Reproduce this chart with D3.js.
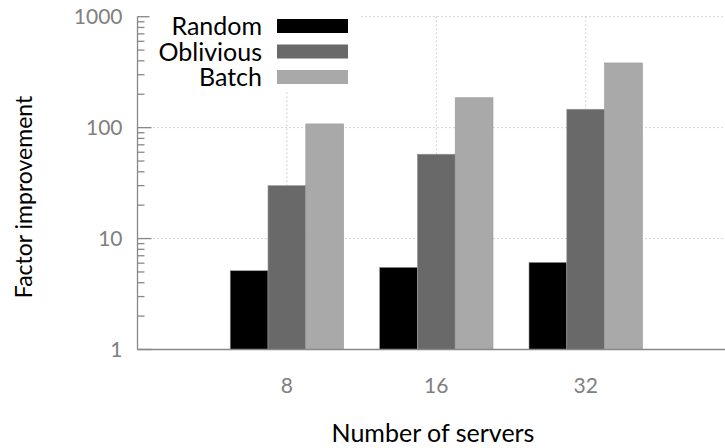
<!DOCTYPE html>
<html>
<head>
<meta charset="utf-8">
<script src="https://cdn.jsdelivr.net/npm/d3@7/dist/d3.min.js"></script>
<style>
  html, body { margin: 0; padding: 0; background: #fff; }
  svg { display: block; font-family: "Lato", "DejaVu Sans", sans-serif; }
</style>
</head>
<body>
<svg id="chart" width="725" height="448"></svg>
<script>
// Server counts on the x axis
const servers = ["8", "16", "32"];
// Factor improvement per scheme
const randomVals = [5.13, 5.5, 6.1];
const obliviousVals = [30, 57.6, 146.5];
const batchVals = [108, 186, 383];
const seriesNames = ["Random", "Oblivious", "Batch"];
const seriesColors = ["#000000", "#696969", "#a9a9a9"];
const yTicks = [1, 10, 100, 1000];

const series = [randomVals, obliviousVals, batchVals];

const svg = d3.select("#chart");
const plotLeft = 137.5, plotBottom = 349.5, plotTop = 16.7;

// x: category index, with a one-slot margin on the left
const x = d3.scaleLinear().domain([-1, 3]).range([plotLeft, plotLeft + 4 * 149.4]);
const y = d3.scaleLog().domain([1, 1000]).range([plotBottom, plotTop]);
const barW = 37.8;

// grid lines (dotted)
const grid = svg.append("g").attr("stroke", "#aaa").attr("stroke-width", 1)
  .attr("stroke-dasharray", "1,3");
[10, 100, 1000].forEach(v => {
  grid.append("line").attr("x1", plotLeft).attr("x2", 725)
    .attr("y1", y(v)).attr("y2", y(v));
});
servers.forEach((s, i) => {
  grid.append("line").attr("x1", x(i)).attr("x2", x(i))
    .attr("y1", plotTop).attr("y2", plotBottom);
});

// bars
series.forEach((vals, k) => {
  svg.append("g").selectAll("rect").data(vals).join("rect")
    .attr("x", (d, i) => x(i) + (k - 1.5) * barW)
    .attr("width", barW)
    .attr("y", d => y(d))
    .attr("height", d => plotBottom - y(d))
    .attr("fill", seriesColors[k])
    .attr("stroke", "#999").attr("stroke-width", 0.6);
});

// y axis with log minor ticks
const axisCol = "#888";
const ya = svg.append("g").attr("stroke", axisCol).attr("stroke-width", 1.3);
ya.append("line").attr("x1", plotLeft).attr("x2", plotLeft).attr("y1", plotTop).attr("y2", plotBottom);
const minor = [];
for (let d = 1; d < 1000; d *= 10) for (let m = 2; m <= 9; m++) minor.push(d * m);
ya.selectAll(".mn").data(minor).join("line")
  .attr("x1", plotLeft).attr("x2", plotLeft + 7)
  .attr("y1", d => y(d)).attr("y2", d => y(d));
ya.selectAll(".mj").data(yTicks).join("line")
  .attr("x1", plotLeft).attr("x2", plotLeft + 14)
  .attr("y1", d => y(d)).attr("y2", d => y(d));
// baseline
ya.append("line").attr("x1", plotLeft).attr("x2", 725).attr("y1", plotBottom).attr("y2", plotBottom);

svg.append("g").selectAll("text").data(yTicks).join("text")
  .attr("x", plotLeft - 15).attr("y", d => y(d)).attr("dy", "0.36em")
  .attr("text-anchor", "end").attr("fill", "#808080").attr("font-size", 21)
  .text(d => d);

// x tick labels
svg.append("g").selectAll("text").data(servers).join("text")
  .attr("x", (d, i) => x(i)).attr("y", 393)
  .attr("text-anchor", "middle").attr("fill", "#808080").attr("font-size", 21)
  .text(d => d);

// axis titles
svg.append("text").attr("x", 433).attr("y", 442).attr("text-anchor", "middle")
  .attr("font-size", 25).attr("fill", "#000").text("Number of servers");
svg.append("text").attr("transform", "translate(32,197) rotate(-90)")
  .attr("text-anchor", "middle").attr("font-size", 23).attr("fill", "#000")
  .text("Factor improvement");

// legend with opaque background
const lg = svg.append("g");
lg.append("rect").attr("x", plotLeft + 12).attr("y", plotTop - 2).attr("width", 360 - plotLeft - 12)
  .attr("height", 90 - plotTop + 2).attr("fill", "#fff");
seriesNames.forEach((n, k) => {
  const cy = 26 + k * 25.5;
  lg.append("text").attr("x", 262).attr("y", cy).attr("dy", "0.36em")
    .attr("text-anchor", "end").attr("font-size", 25).attr("fill", "#000").text(n);
  lg.append("rect").attr("x", 277).attr("y", cy - 7).attr("width", 71).attr("height", 14)
    .attr("fill", seriesColors[k]);
});
</script>
</body>
</html>
